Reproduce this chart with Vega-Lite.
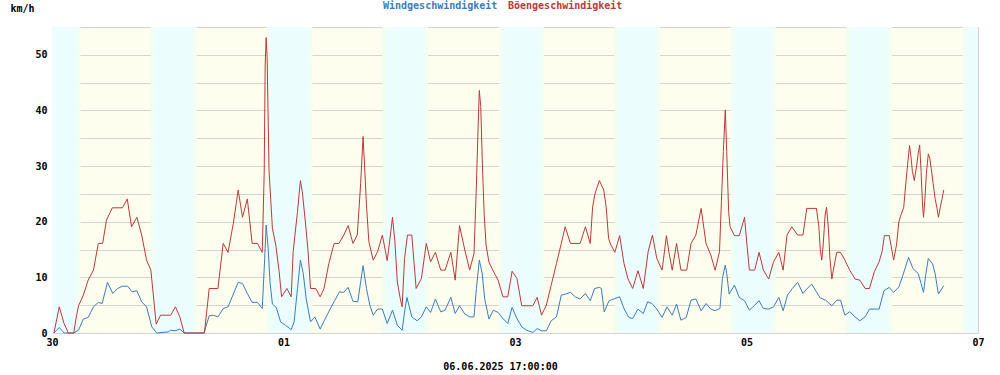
{
"$schema": "https://vega.github.io/schema/vega-lite/v6.json",
"width": 926, "height": 306,
"autosize": {"type": "none"},
"padding": {"left": 52, "top": 27, "right": 22, "bottom": 42},
"background": "white",
"config": {
  "view": {"stroke": "#d0d0d0", "strokeWidth": 1, "fill": "#fdfeed"},
  "font": "DejaVu Sans Mono",
  "axis": {"labelFont": "DejaVu Sans Mono", "labelFontSize": 10, "labelFontWeight": "bold", "labelColor": "#000000", "gridColor": "#d4d4d4", "gridWidth": 1, "gridOpacity": 1, "domain": false, "ticks": false, "titleFont": "DejaVu Sans Mono", "titleFontSize": 10, "titleFontWeight": "bold", "titleColor": "#000000"}
},
"datasets": {
  "bands": [
    {"h": 0, "h2": 5.0, "p": "n"}, {"h": 5.0, "h2": 5.9, "p": "d"},
    {"h": 20.5, "h2": 21.3, "p": "d"}, {"h": 21.3, "h2": 29.2, "p": "n"}, {"h": 29.2, "h2": 30.0, "p": "d"},
    {"h": 44.5, "h2": 45.3, "p": "d"}, {"h": 45.3, "h2": 53.2, "p": "n"}, {"h": 53.2, "h2": 54.0, "p": "d"},
    {"h": 68.5, "h2": 69.3, "p": "d"}, {"h": 69.3, "h2": 77.2, "p": "n"}, {"h": 77.2, "h2": 78.0, "p": "d"},
    {"h": 92.7, "h2": 93.5, "p": "d"}, {"h": 93.5, "h2": 101.2, "p": "n"}, {"h": 101.2, "h2": 102.0, "p": "d"},
    {"h": 116.6, "h2": 117.4, "p": "d"}, {"h": 117.4, "h2": 125.3, "p": "n"}, {"h": 125.3, "h2": 126.1, "p": "d"},
    {"h": 140.7, "h2": 141.5, "p": "d"}, {"h": 141.5, "h2": 149.4, "p": "n"}, {"h": 149.4, "h2": 150.1, "p": "d"},
    {"h": 164.7, "h2": 165.5, "p": "d"}, {"h": 165.5, "h2": 173.3, "p": "n"}, {"h": 173.3, "h2": 174.1, "p": "d"},
    {"h": 188.8, "h2": 189.6, "p": "d"}, {"h": 189.6, "h2": 192, "p": "n"}
  ],
  "series": [
    {"h":0.4,"v":0,"s":"w"},{"h":1.5,"v":1.0,"s":"w"},{"h":2.5,"v":0,"s":"w"},{"h":4.5,"v":0,"s":"w"},{"h":5.5,"v":0.5,"s":"w"},{"h":6.5,"v":2.5,"s":"w"},{"h":7.5,"v":2.8,"s":"w"},{"h":8.6,"v":4.7,"s":"w"},{"h":9.6,"v":5.5,"s":"w"},{"h":10.4,"v":5.3,"s":"w"},{"h":11.5,"v":9.1,"s":"w"},{"h":12.6,"v":7.1,"s":"w"},{"h":13.6,"v":8.0,"s":"w"},{"h":14.6,"v":8.4,"s":"w"},{"h":15.7,"v":8.4,"s":"w"},{"h":16.6,"v":7.4,"s":"w"},{"h":17.6,"v":7.6,"s":"w"},{"h":18.6,"v":5.6,"s":"w"},{"h":19.6,"v":4.7,"s":"w"},{"h":20.7,"v":1.1,"s":"w"},{"h":21.7,"v":0,"s":"w"},{"h":24.1,"v":0.2,"s":"w"},{"h":24.6,"v":0.5,"s":"w"},{"h":25.5,"v":0.4,"s":"w"},{"h":26.5,"v":0.7,"s":"w"},{"h":27.4,"v":0,"s":"w"},{"h":31.5,"v":0,"s":"w"},{"h":32.6,"v":3.1,"s":"w"},{"h":33.4,"v":3.2,"s":"w"},{"h":34.4,"v":2.9,"s":"w"},{"h":35.5,"v":4.4,"s":"w"},{"h":36.5,"v":4.7,"s":"w"},{"h":37.6,"v":7.0,"s":"w"},{"h":38.6,"v":9.1,"s":"w"},{"h":39.5,"v":8.9,"s":"w"},{"h":40.5,"v":7.1,"s":"w"},{"h":41.5,"v":5.5,"s":"w"},{"h":42.6,"v":5.5,"s":"w"},{"h":43.6,"v":4.4,"s":"w"},{"h":44.1,"v":13.4,"s":"w"},{"h":44.4,"v":19.4,"s":"w"},{"h":44.8,"v":15.5,"s":"w"},{"h":45.2,"v":9.2,"s":"w"},{"h":45.7,"v":5.2,"s":"w"},{"h":46.5,"v":4.6,"s":"w"},{"h":47.4,"v":2.0,"s":"w"},{"h":48.4,"v":1.4,"s":"w"},{"h":49.6,"v":0.6,"s":"w"},{"h":50.2,"v":2.0,"s":"w"},{"h":50.9,"v":8.0,"s":"w"},{"h":51.5,"v":13.1,"s":"w"},{"h":52.1,"v":10.7,"s":"w"},{"h":52.7,"v":6.2,"s":"w"},{"h":53.6,"v":2.0,"s":"w"},{"h":54.5,"v":2.9,"s":"w"},{"h":55.6,"v":0.7,"s":"w"},{"h":56.5,"v":2.3,"s":"w"},{"h":57.6,"v":4.2,"s":"w"},{"h":58.6,"v":5.8,"s":"w"},{"h":59.6,"v":7.4,"s":"w"},{"h":60.5,"v":7.3,"s":"w"},{"h":61.4,"v":8.2,"s":"w"},{"h":62.4,"v":5.7,"s":"w"},{"h":63.4,"v":5.6,"s":"w"},{"h":64.0,"v":9.2,"s":"w"},{"h":64.5,"v":12.1,"s":"w"},{"h":65.2,"v":8.0,"s":"w"},{"h":65.9,"v":5.0,"s":"w"},{"h":66.6,"v":3.2,"s":"w"},{"h":67.5,"v":4.3,"s":"w"},{"h":68.5,"v":4.3,"s":"w"},{"h":69.5,"v":1.7,"s":"w"},{"h":70.6,"v":4.1,"s":"w"},{"h":71.6,"v":1.4,"s":"w"},{"h":72.6,"v":0.5,"s":"w"},{"h":73.1,"v":3.8,"s":"w"},{"h":73.6,"v":6.4,"s":"w"},{"h":74.6,"v":2.9,"s":"w"},{"h":75.7,"v":2.2,"s":"w"},{"h":76.6,"v":2.9,"s":"w"},{"h":77.6,"v":4.7,"s":"w"},{"h":78.5,"v":3.7,"s":"w"},{"h":79.5,"v":6.1,"s":"w"},{"h":80.6,"v":3.8,"s":"w"},{"h":81.5,"v":4.1,"s":"w"},{"h":82.7,"v":6.4,"s":"w"},{"h":83.6,"v":3.5,"s":"w"},{"h":84.5,"v":4.9,"s":"w"},{"h":85.6,"v":3.4,"s":"w"},{"h":86.6,"v":2.9,"s":"w"},{"h":87.5,"v":2.9,"s":"w"},{"h":88.0,"v":8.0,"s":"w"},{"h":88.6,"v":13.1,"s":"w"},{"h":89.2,"v":10.7,"s":"w"},{"h":89.7,"v":6.2,"s":"w"},{"h":90.6,"v":2.5,"s":"w"},{"h":91.5,"v":4.1,"s":"w"},{"h":92.5,"v":3.7,"s":"w"},{"h":93.5,"v":2.6,"s":"w"},{"h":94.5,"v":1.7,"s":"w"},{"h":95.4,"v":4.6,"s":"w"},{"h":96.4,"v":2.6,"s":"w"},{"h":97.4,"v":1.1,"s":"w"},{"h":98.4,"v":0.5,"s":"w"},{"h":99.7,"v":0.1,"s":"w"},{"h":100.6,"v":0.8,"s":"w"},{"h":101.5,"v":0.4,"s":"w"},{"h":102.5,"v":0.4,"s":"w"},{"h":103.5,"v":2.2,"s":"w"},{"h":104.6,"v":2.9,"s":"w"},{"h":105.6,"v":6.8,"s":"w"},{"h":106.5,"v":7.0,"s":"w"},{"h":107.5,"v":7.3,"s":"w"},{"h":108.5,"v":6.5,"s":"w"},{"h":109.5,"v":6.1,"s":"w"},{"h":110.6,"v":7.1,"s":"w"},{"h":111.6,"v":5.8,"s":"w"},{"h":112.5,"v":8.0,"s":"w"},{"h":113.5,"v":8.2,"s":"w"},{"h":113.9,"v":8.0,"s":"w"},{"h":114.5,"v":3.8,"s":"w"},{"h":115.5,"v":5.8,"s":"w"},{"h":116.7,"v":6.2,"s":"w"},{"h":117.7,"v":6.5,"s":"w"},{"h":118.6,"v":4.4,"s":"w"},{"h":119.6,"v":2.8,"s":"w"},{"h":120.4,"v":2.6,"s":"w"},{"h":121.5,"v":4.3,"s":"w"},{"h":122.6,"v":3.5,"s":"w"},{"h":123.5,"v":5.6,"s":"w"},{"h":124.4,"v":5.3,"s":"w"},{"h":125.4,"v":4.3,"s":"w"},{"h":126.5,"v":2.8,"s":"w"},{"h":127.5,"v":4.7,"s":"w"},{"h":128.6,"v":3.2,"s":"w"},{"h":129.5,"v":5.2,"s":"w"},{"h":130.4,"v":2.3,"s":"w"},{"h":131.5,"v":2.8,"s":"w"},{"h":132.5,"v":5.9,"s":"w"},{"h":133.5,"v":6.1,"s":"w"},{"h":134.6,"v":4.0,"s":"w"},{"h":135.6,"v":5.3,"s":"w"},{"h":136.6,"v":4.3,"s":"w"},{"h":137.5,"v":4.0,"s":"w"},{"h":138.5,"v":4.4,"s":"w"},{"h":139.0,"v":9.8,"s":"w"},{"h":139.6,"v":12.2,"s":"w"},{"h":139.9,"v":10.7,"s":"w"},{"h":140.4,"v":7.0,"s":"w"},{"h":141.5,"v":8.6,"s":"w"},{"h":142.5,"v":6.4,"s":"w"},{"h":143.6,"v":5.8,"s":"w"},{"h":144.6,"v":4.1,"s":"w"},{"h":145.7,"v":5.0,"s":"w"},{"h":146.6,"v":5.8,"s":"w"},{"h":147.5,"v":4.4,"s":"w"},{"h":148.6,"v":4.3,"s":"w"},{"h":149.6,"v":4.7,"s":"w"},{"h":150.7,"v":6.4,"s":"w"},{"h":151.6,"v":4.0,"s":"w"},{"h":152.5,"v":6.8,"s":"w"},{"h":153.5,"v":8.0,"s":"w"},{"h":154.6,"v":9.1,"s":"w"},{"h":155.7,"v":7.1,"s":"w"},{"h":156.5,"v":7.9,"s":"w"},{"h":157.5,"v":8.8,"s":"w"},{"h":158.5,"v":7.4,"s":"w"},{"h":159.3,"v":6.3,"s":"w"},{"h":160.4,"v":5.9,"s":"w"},{"h":161.7,"v":4.9,"s":"w"},{"h":162.7,"v":5.9,"s":"w"},{"h":163.5,"v":5.9,"s":"w"},{"h":164.4,"v":3.2,"s":"w"},{"h":165.4,"v":3.8,"s":"w"},{"h":166.5,"v":2.9,"s":"w"},{"h":167.5,"v":2.2,"s":"w"},{"h":168.6,"v":2.9,"s":"w"},{"h":169.5,"v":4.3,"s":"w"},{"h":170.5,"v":4.3,"s":"w"},{"h":171.5,"v":4.3,"s":"w"},{"h":172.5,"v":7.6,"s":"w"},{"h":173.6,"v":8.2,"s":"w"},{"h":174.5,"v":7.3,"s":"w"},{"h":175.6,"v":8.3,"s":"w"},{"h":176.4,"v":10.3,"s":"w"},{"h":177.6,"v":13.6,"s":"w"},{"h":178.5,"v":11.6,"s":"w"},{"h":179.6,"v":10.7,"s":"w"},{"h":180.2,"v":8.9,"s":"w"},{"h":180.7,"v":7.3,"s":"w"},{"h":181.2,"v":10.7,"s":"w"},{"h":181.7,"v":13.4,"s":"w"},{"h":182.6,"v":12.4,"s":"w"},{"h":183.1,"v":10.7,"s":"w"},{"h":183.8,"v":7.0,"s":"w"},{"h":184.3,"v":7.7,"s":"w"},{"h":184.9,"v":8.5,"s":"w"},
    {"h":0.4,"v":0,"s":"b"},{"h":1.5,"v":4.7,"s":"b"},{"h":2.5,"v":1.7,"s":"b"},{"h":3.4,"v":0,"s":"b"},{"h":4.5,"v":0,"s":"b"},{"h":5.1,"v":3.2,"s":"b"},{"h":5.5,"v":4.9,"s":"b"},{"h":6.5,"v":6.8,"s":"b"},{"h":7.5,"v":9.5,"s":"b"},{"h":8.6,"v":11.3,"s":"b"},{"h":9.6,"v":16.1,"s":"b"},{"h":10.5,"v":16.1,"s":"b"},{"h":11.3,"v":20.3,"s":"b"},{"h":12.5,"v":22.5,"s":"b"},{"h":14.6,"v":22.5,"s":"b"},{"h":15.6,"v":24.1,"s":"b"},{"h":16.5,"v":19.1,"s":"b"},{"h":17.6,"v":20.8,"s":"b"},{"h":18.6,"v":17.6,"s":"b"},{"h":19.6,"v":13.1,"s":"b"},{"h":20.5,"v":11.3,"s":"b"},{"h":21.6,"v":1.6,"s":"b"},{"h":22.5,"v":3.2,"s":"b"},{"h":24.6,"v":3.2,"s":"b"},{"h":25.6,"v":4.7,"s":"b"},{"h":26.5,"v":2.9,"s":"b"},{"h":27.4,"v":0,"s":"b"},{"h":31.6,"v":0,"s":"b"},{"h":32.6,"v":8.0,"s":"b"},{"h":34.4,"v":8.0,"s":"b"},{"h":35.5,"v":16.1,"s":"b"},{"h":36.5,"v":14.5,"s":"b"},{"h":37.6,"v":19.7,"s":"b"},{"h":38.6,"v":25.7,"s":"b"},{"h":39.5,"v":20.8,"s":"b"},{"h":40.5,"v":24.1,"s":"b"},{"h":41.5,"v":16.1,"s":"b"},{"h":42.6,"v":16.1,"s":"b"},{"h":43.6,"v":14.5,"s":"b"},{"h":44.0,"v":29,"s":"b"},{"h":44.2,"v":48.2,"s":"b"},{"h":44.4,"v":53.1,"s":"b"},{"h":44.6,"v":49.7,"s":"b"},{"h":45.0,"v":29.3,"s":"b"},{"h":45.7,"v":18.8,"s":"b"},{"h":46.4,"v":15.8,"s":"b"},{"h":47.1,"v":11,"s":"b"},{"h":47.6,"v":6.5,"s":"b"},{"h":48.7,"v":8.0,"s":"b"},{"h":49.6,"v":6.5,"s":"b"},{"h":50.0,"v":14.6,"s":"b"},{"h":50.9,"v":21.8,"s":"b"},{"h":51.5,"v":27.4,"s":"b"},{"h":51.9,"v":25.4,"s":"b"},{"h":52.6,"v":19.4,"s":"b"},{"h":53.1,"v":14.6,"s":"b"},{"h":53.6,"v":8.0,"s":"b"},{"h":54.7,"v":8.0,"s":"b"},{"h":55.6,"v":6.5,"s":"b"},{"h":56.4,"v":8.0,"s":"b"},{"h":57.4,"v":12.5,"s":"b"},{"h":58.5,"v":16.1,"s":"b"},{"h":59.5,"v":16.1,"s":"b"},{"h":60.5,"v":17.6,"s":"b"},{"h":61.4,"v":19.3,"s":"b"},{"h":62.4,"v":16.1,"s":"b"},{"h":63.3,"v":17.6,"s":"b"},{"h":64.0,"v":26.9,"s":"b"},{"h":64.5,"v":35.3,"s":"b"},{"h":64.8,"v":30.2,"s":"b"},{"h":65.2,"v":23,"s":"b"},{"h":65.7,"v":16.4,"s":"b"},{"h":66.6,"v":13.1,"s":"b"},{"h":67.5,"v":14.6,"s":"b"},{"h":68.5,"v":17.6,"s":"b"},{"h":69.5,"v":13,"s":"b"},{"h":70.0,"v":16.4,"s":"b"},{"h":70.6,"v":20.8,"s":"b"},{"h":71.1,"v":16.4,"s":"b"},{"h":71.6,"v":9.2,"s":"b"},{"h":72.2,"v":6.2,"s":"b"},{"h":72.6,"v":4.7,"s":"b"},{"h":73.1,"v":13.4,"s":"b"},{"h":73.7,"v":17.6,"s":"b"},{"h":74.6,"v":17.6,"s":"b"},{"h":75.5,"v":8.0,"s":"b"},{"h":76.6,"v":9.8,"s":"b"},{"h":77.6,"v":16.1,"s":"b"},{"h":78.5,"v":12.8,"s":"b"},{"h":79.5,"v":14.5,"s":"b"},{"h":80.6,"v":11.3,"s":"b"},{"h":81.5,"v":11.3,"s":"b"},{"h":82.7,"v":14.5,"s":"b"},{"h":83.6,"v":9.5,"s":"b"},{"h":84.5,"v":19.3,"s":"b"},{"h":85.6,"v":14.9,"s":"b"},{"h":86.6,"v":11.3,"s":"b"},{"h":87.5,"v":14.3,"s":"b"},{"h":88.0,"v":26.6,"s":"b"},{"h":88.3,"v":35.6,"s":"b"},{"h":88.6,"v":43.6,"s":"b"},{"h":88.9,"v":40.7,"s":"b"},{"h":89.2,"v":31.4,"s":"b"},{"h":89.6,"v":21.5,"s":"b"},{"h":90.0,"v":15.8,"s":"b"},{"h":90.6,"v":12.7,"s":"b"},{"h":91.4,"v":11.3,"s":"b"},{"h":92.5,"v":9.5,"s":"b"},{"h":93.5,"v":6.5,"s":"b"},{"h":94.5,"v":6.5,"s":"b"},{"h":95.4,"v":11.1,"s":"b"},{"h":96.4,"v":9.8,"s":"b"},{"h":97.4,"v":4.9,"s":"b"},{"h":99.7,"v":4.9,"s":"b"},{"h":100.6,"v":6.4,"s":"b"},{"h":101.5,"v":3.2,"s":"b"},{"h":102.5,"v":5,"s":"b"},{"h":103.5,"v":8.6,"s":"b"},{"h":104.6,"v":12.5,"s":"b"},{"h":105.6,"v":16.1,"s":"b"},{"h":106.4,"v":19.1,"s":"b"},{"h":107.5,"v":16.1,"s":"b"},{"h":109.5,"v":16.1,"s":"b"},{"h":110.6,"v":19.1,"s":"b"},{"h":111.6,"v":16.1,"s":"b"},{"h":112.1,"v":22.7,"s":"b"},{"h":112.6,"v":25.1,"s":"b"},{"h":113.5,"v":27.4,"s":"b"},{"h":114.4,"v":25.7,"s":"b"},{"h":114.9,"v":22.7,"s":"b"},{"h":115.4,"v":17,"s":"b"},{"h":115.8,"v":16,"s":"b"},{"h":116.7,"v":14.5,"s":"b"},{"h":117.7,"v":17.5,"s":"b"},{"h":118.6,"v":12.5,"s":"b"},{"h":119.4,"v":9.8,"s":"b"},{"h":120.4,"v":8.0,"s":"b"},{"h":121.5,"v":11.2,"s":"b"},{"h":122.6,"v":8.0,"s":"b"},{"h":123.6,"v":14.6,"s":"b"},{"h":124.5,"v":17.6,"s":"b"},{"h":125.4,"v":13.4,"s":"b"},{"h":126.5,"v":11.3,"s":"b"},{"h":127.4,"v":17.5,"s":"b"},{"h":127.9,"v":14.6,"s":"b"},{"h":128.6,"v":11.3,"s":"b"},{"h":129.5,"v":16.1,"s":"b"},{"h":130.4,"v":11.3,"s":"b"},{"h":131.6,"v":11.3,"s":"b"},{"h":132.5,"v":16.1,"s":"b"},{"h":133.5,"v":17.6,"s":"b"},{"h":134.6,"v":22.4,"s":"b"},{"h":135.6,"v":16.1,"s":"b"},{"h":136.6,"v":14,"s":"b"},{"h":137.5,"v":11.3,"s":"b"},{"h":138.4,"v":14.6,"s":"b"},{"h":138.8,"v":23.6,"s":"b"},{"h":139.2,"v":32.6,"s":"b"},{"h":139.6,"v":40.1,"s":"b"},{"h":139.9,"v":32.6,"s":"b"},{"h":140.3,"v":21.8,"s":"b"},{"h":140.6,"v":19.1,"s":"b"},{"h":141.5,"v":17.5,"s":"b"},{"h":142.5,"v":17.5,"s":"b"},{"h":143.6,"v":20.8,"s":"b"},{"h":144.1,"v":15.8,"s":"b"},{"h":144.6,"v":11.3,"s":"b"},{"h":145.7,"v":11.3,"s":"b"},{"h":146.6,"v":14.5,"s":"b"},{"h":147.5,"v":11.3,"s":"b"},{"h":148.6,"v":9.7,"s":"b"},{"h":149.6,"v":12.8,"s":"b"},{"h":150.7,"v":14.5,"s":"b"},{"h":151.6,"v":11.3,"s":"b"},{"h":152.4,"v":17.6,"s":"b"},{"h":153.4,"v":19.1,"s":"b"},{"h":154.6,"v":17.6,"s":"b"},{"h":155.7,"v":17.6,"s":"b"},{"h":156.5,"v":22.4,"s":"b"},{"h":158.5,"v":22.4,"s":"b"},{"h":159.0,"v":19.1,"s":"b"},{"h":159.3,"v":15.0,"s":"b"},{"h":159.6,"v":13.1,"s":"b"},{"h":159.9,"v":15.8,"s":"b"},{"h":160.3,"v":21.2,"s":"b"},{"h":160.6,"v":22.6,"s":"b"},{"h":161.0,"v":18.5,"s":"b"},{"h":161.3,"v":13.4,"s":"b"},{"h":161.7,"v":9.7,"s":"b"},{"h":162.0,"v":11.3,"s":"b"},{"h":162.4,"v":13.1,"s":"b"},{"h":162.7,"v":14.5,"s":"b"},{"h":163.5,"v":14.5,"s":"b"},{"h":164.4,"v":13.1,"s":"b"},{"h":165.4,"v":11.3,"s":"b"},{"h":166.5,"v":9.7,"s":"b"},{"h":167.5,"v":9.5,"s":"b"},{"h":168.6,"v":8.0,"s":"b"},{"h":169.5,"v":8.0,"s":"b"},{"h":170.5,"v":11,"s":"b"},{"h":171.5,"v":12.8,"s":"b"},{"h":172.1,"v":14.6,"s":"b"},{"h":172.6,"v":17.5,"s":"b"},{"h":173.6,"v":17.5,"s":"b"},{"h":174.2,"v":14.6,"s":"b"},{"h":174.5,"v":13.1,"s":"b"},{"h":175.1,"v":15.8,"s":"b"},{"h":175.6,"v":20,"s":"b"},{"h":175.9,"v":20.9,"s":"b"},{"h":176.6,"v":22.6,"s":"b"},{"h":177.0,"v":26.6,"s":"b"},{"h":177.5,"v":31.1,"s":"b"},{"h":177.8,"v":33.7,"s":"b"},{"h":178.1,"v":31.7,"s":"b"},{"h":178.4,"v":29,"s":"b"},{"h":178.8,"v":27.4,"s":"b"},{"h":179.3,"v":30.2,"s":"b"},{"h":179.6,"v":32.3,"s":"b"},{"h":179.9,"v":33.8,"s":"b"},{"h":180.2,"v":29,"s":"b"},{"h":180.5,"v":23,"s":"b"},{"h":180.7,"v":20.8,"s":"b"},{"h":181.0,"v":24.2,"s":"b"},{"h":181.3,"v":28.7,"s":"b"},{"h":181.7,"v":32.2,"s":"b"},{"h":182.0,"v":31.4,"s":"b"},{"h":182.3,"v":29.6,"s":"b"},{"h":182.7,"v":26.9,"s":"b"},{"h":183.1,"v":24.2,"s":"b"},{"h":183.5,"v":22.4,"s":"b"},{"h":183.8,"v":20.8,"s":"b"},{"h":184.2,"v":22.7,"s":"b"},{"h":184.5,"v":23.9,"s":"b"},{"h":184.9,"v":25.7,"s":"b"}
  ]
},
"encoding": {
  "x": {"field": "h", "type": "quantitative",
    "scale": {"domain": [0, 192], "nice": false, "zero": false},
    "axis": {"values": [0, 24, 48, 72, 96, 120, 144, 168, 192],
      "labelExpr": "datum.value==0?'30':datum.value==48?'01':datum.value==96?'03':datum.value==144?'05':datum.value==192?'07':''",
      "labelPadding": 4, "labelFlush": false, "labelOverlap": false, "grid": true,
      "title": "06.06.2025 17:00:00", "titleX": 448, "titleY": 33, "titleAlign": "center", "titleBaseline": "middle"}}
},
"layer": [
  {
    "data": {"name": "bands"},
    "mark": {"type": "rect"},
    "encoding": {
      "x2": {"field": "h2"},
      "fill": {"field": "p", "type": "nominal", "scale": {"domain": ["d", "n"], "range": ["#f1fef3", "#ecfdfd"]}, "legend": null}
    }
  },
  {
    "data": {"name": "series"},
    "mark": {"type": "line", "strokeWidth": 1, "interpolate": "linear"},
    "encoding": {
      "y": {"field": "v", "type": "quantitative",
        "scale": {"domain": [0, 55], "nice": false, "zero": true},
        "axis": {"values": [0, 5, 10, 15, 20, 25, 30, 35, 40, 45, 50, 55],
          "labelExpr": "datum.value % 10 == 0 && datum.value < 55 ? datum.label : ''",
          "labelPadding": 5, "grid": true,
          "title": "km/h", "titleAngle": 0, "titleX": -42, "titleY": -19, "titleAlign": "left", "titleBaseline": "middle"}},
      "stroke": {"field": "s", "type": "nominal",
        "scale": {"domain": ["w", "b"], "range": ["#3b7dbf", "#bb3a3a"]},
        "legend": {"orient": "none", "legendX": 321, "legendY": -26, "direction": "horizontal", "title": null,
          "symbolSize": 0, "symbolStrokeWidth": 0, "symbolOpacity": 0, "labelOffset": 0, "columnPadding": -5, "padding": 0,
          "labelFont": "DejaVu Sans Mono", "labelFontSize": 10, "labelFontWeight": "bold", "labelLimit": 0,
          "labelExpr": "datum.value=='w'?'Windgeschwindigkeit':'Böengeschwindigkeit'",
          "encode": {"labels": {"update": {"fill": {"signal": "datum.value=='w'?'#3b7dbf':'#bb3a3a'"}}}}}}
    }
  }
]
}
